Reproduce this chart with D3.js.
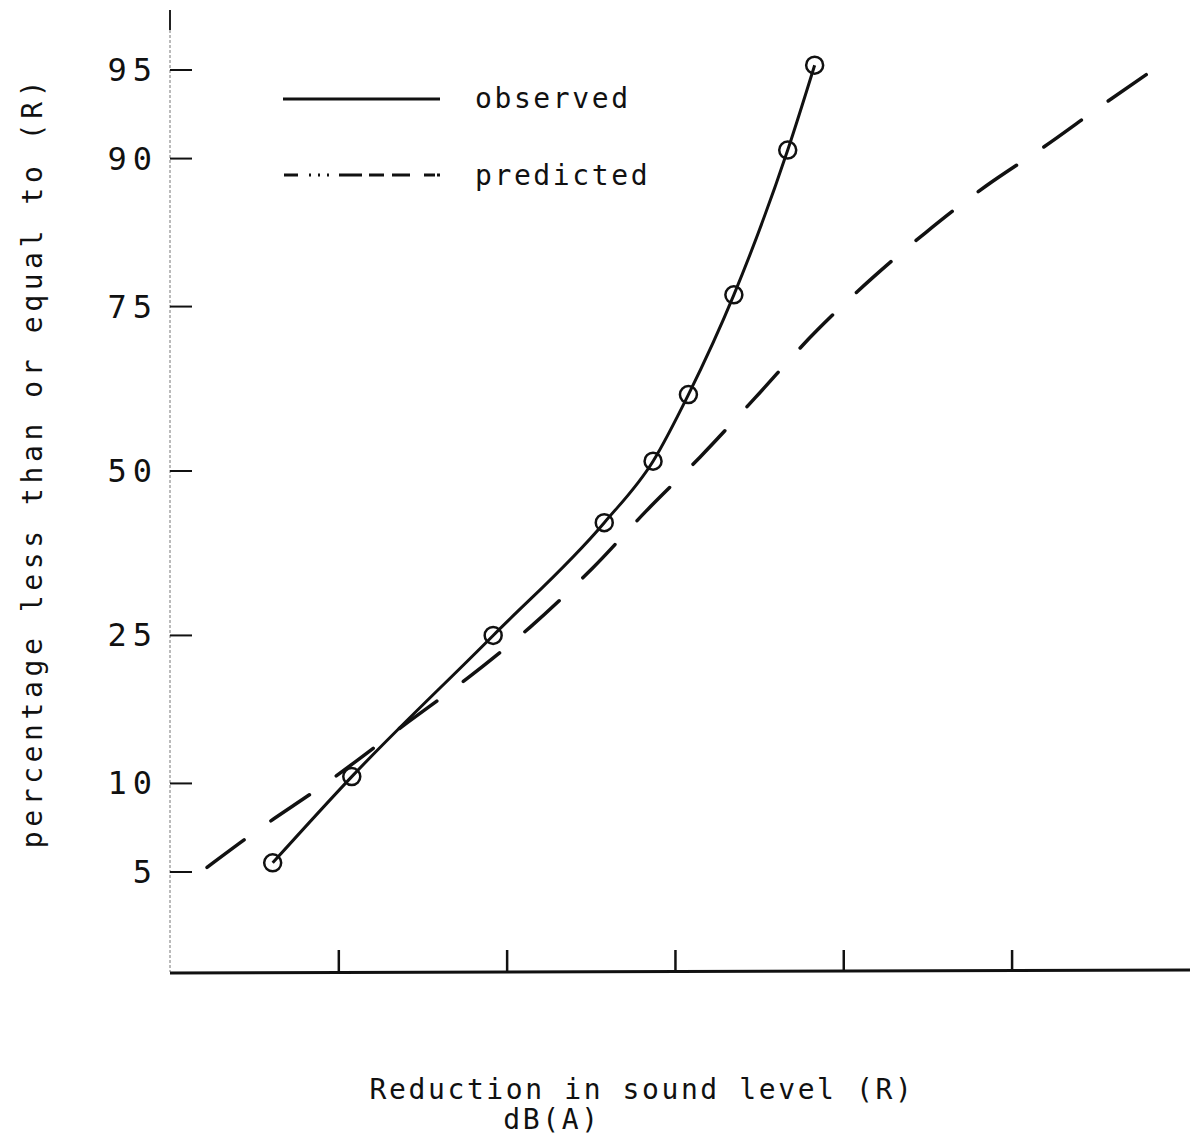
<!DOCTYPE html>
<html>
<head>
<meta charset="utf-8">
<script src="https://cdn.jsdelivr.net/npm/d3@7/dist/d3.min.js"></script>
<style>
  body { margin: 0; background: #fff; }
  text { font-family: "DejaVu Sans Mono", monospace; fill: #111; }
</style>
</head>
<body>
<div id="chart"></div>
<script>
// observed points (reduction, percent <= R)
const obsX = [0.61, 1.08, 1.92, 2.58, 2.87, 3.08, 3.35, 3.67, 3.83];
const obsY = [5.4, 10.5, 25.0, 41.6, 51.6, 62.3, 76.5, 90.6, 95.2];

// predicted curve, listed from the top end down
const predX = [5.80, 5.55, 5.19, 4.85, 4.49, 4.18, 3.84, 3.48, 3.15, 2.83, 2.51, 2.14, 1.77, 1.41, 0.89, 0.56, 0.22];
const predY = [94.8, 93.4, 90.8, 87.9, 83.6, 78.7, 71.7, 61.9, 52.3, 43.5, 34.5, 26.1, 19.8, 15.1, 9.7, 7.3, 5.2];

const yTicks = [5, 10, 25, 50, 75, 90, 95];
const xTicks = [1, 2, 3, 4, 5];

const width = 1200, height = 1147;

// inverse normal cdf (Acklam) for the probability axis
function probit(p) {
    const a = [-39.6968302866538, 220.946098424521, -275.928510446969, 138.357751867269, -30.6647980661472, 2.50662827745924];
    const b = [-54.4760987982241, 161.585836858041, -155.698979859887, 66.8013118877197, -13.2806815528857];
    const c = [-0.00778489400243029, -0.322396458041136, -2.40075827716184, -2.54973253934373, 4.37466414146497, 2.93816398269878];
    const d = [0.00778469570904146, 0.32246712907004, 2.445134137143, 3.75440866190742];
    const pl = 0.02425;
    let q, r;
    if (p < pl) {
        q = Math.sqrt(-2 * Math.log(p));
        return (((((c[0]*q+c[1])*q+c[2])*q+c[3])*q+c[4])*q+c[5]) / ((((d[0]*q+d[1])*q+d[2])*q+d[3])*q+1);
    } else if (p <= 1 - pl) {
        q = p - 0.5; r = q * q;
        return (((((a[0]*r+a[1])*r+a[2])*r+a[3])*r+a[4])*r+a[5])*q / (((((b[0]*r+b[1])*r+b[2])*r+b[3])*r+b[4])*r+1);
    } else {
        q = Math.sqrt(-2 * Math.log(1 - p));
        return -(((((c[0]*q+c[1])*q+c[2])*q+c[3])*q+c[4])*q+c[5]) / ((((d[0]*q+d[1])*q+d[2])*q+d[3])*q+1);
    }
}

const svg = d3.select("#chart").append("svg")
    .attr("width", width)
    .attr("height", height);

// scales
const xScale = d3.scaleLinear().domain([0, 6.06]).range([170, 1190]);
const zScale = d3.scaleLinear().domain([probit(0.05), probit(0.95)]).range([872, 70]);
const yScale = v => zScale(probit(v / 100));

// y axis (faint line, ticks pointing inwards)
svg.append("line")
    .attr("x1", 170).attr("x2", 170)
    .attr("y1", 10).attr("y2", 972)
    .attr("stroke", "#777")
    .attr("stroke-width", 1)
    .attr("stroke-dasharray", "3,2");
svg.append("line")
    .attr("x1", 170).attr("x2", 170)
    .attr("y1", 10).attr("y2", 30)
    .attr("stroke", "#222")
    .attr("stroke-width", 2);

const yAxis = svg.append("g");
yAxis.selectAll(".ytick")
    .data(yTicks)
    .enter().append("line")
    .attr("x1", 170).attr("x2", 192)
    .attr("y1", d => yScale(d)).attr("y2", d => yScale(d))
    .attr("stroke", "#111")
    .attr("stroke-width", 2);
yAxis.selectAll(".ylab")
    .data(yTicks)
    .enter().append("text")
    .attr("x", 158)
    .attr("y", d => yScale(d) + 11)
    .attr("text-anchor", "end")
    .attr("font-size", "32px")
    .attr("letter-spacing", "6px")
    .text(d => d);

// x axis: unlabeled ticks pointing up
const xAxis = d3.axisBottom(xScale)
    .tickValues(xTicks)
    .tickSize(-22)
    .tickFormat("");
const gx = svg.append("g")
    .attr("transform", "translate(0, 972)")
    .call(xAxis);
gx.select(".domain").remove();
gx.selectAll(".tick line").attr("stroke", "#111").attr("stroke-width", 2.5);
svg.append("line")
    .attr("x1", 170).attr("x2", 1190)
    .attr("y1", 973).attr("y2", 970)
    .attr("stroke", "#111")
    .attr("stroke-width", 3);

// predicted curve (dashed), dash length fitted so both ends are dashes
const predLine = d3.line()
    .x(i => xScale(predX[i]))
    .y(i => yScale(predY[i]))
    .curve(d3.curveMonotoneY);
const predPath = svg.append("path")
    .attr("d", predLine(d3.range(predX.length)))
    .attr("fill", "none")
    .attr("stroke", "#111")
    .attr("stroke-width", 3.5)
    .attr("stroke-linecap", "round");
const len = predPath.node().getTotalLength();
const gapFrac = 32 / 77;
const nDash = Math.round(len / 77 + gapFrac);
const period = len / (nDash - gapFrac);
predPath.attr("stroke-dasharray", `${period * (1 - gapFrac)},${period * gapFrac}`);

// observed curve (solid) with open circles
const obsLine = d3.line()
    .x(i => xScale(obsX[i]))
    .y(i => yScale(obsY[i]))
    .curve(d3.curveMonotoneX);
svg.append("path")
    .attr("d", obsLine(d3.range(obsX.length)))
    .attr("fill", "none")
    .attr("stroke", "#111")
    .attr("stroke-width", 3);

svg.selectAll(".obs")
    .data(d3.range(obsX.length))
    .enter().append("circle")
    .attr("cx", i => xScale(obsX[i]))
    .attr("cy", i => yScale(obsY[i]))
    .attr("r", 8.5)
    .attr("fill", "none")
    .attr("stroke", "#111")
    .attr("stroke-width", 2.5);

// legend
svg.append("line")
    .attr("x1", 283).attr("x2", 440)
    .attr("y1", 99).attr("y2", 99)
    .attr("stroke", "#111")
    .attr("stroke-width", 3);
svg.append("line")
    .attr("x1", 284).attr("x2", 440)
    .attr("y1", 175).attr("y2", 175)
    .attr("stroke", "#111")
    .attr("stroke-width", 3)
    .attr("stroke-dasharray", "14,11,2,7,2,7,2,10,23,7,15,8,18");
svg.append("text")
    .attr("x", 475).attr("y", 108)
    .attr("font-size", "28px")
    .attr("letter-spacing", "2.6px")
    .text("observed");
svg.append("text")
    .attr("x", 475).attr("y", 185)
    .attr("font-size", "28px")
    .attr("letter-spacing", "2.6px")
    .text("predicted");

// axis titles
svg.append("text")
    .attr("transform", "translate(42, 462) rotate(-90)")
    .attr("text-anchor", "middle")
    .attr("font-size", "28px")
    .attr("letter-spacing", "4.6px")
    .text("percentage less than or equal to (R)");

svg.append("text")
    .attr("x", 642).attr("y", 1099)
    .attr("text-anchor", "middle")
    .attr("font-size", "28px")
    .attr("letter-spacing", "2.6px")
    .text("Reduction in sound level (R)");
svg.append("text")
    .attr("x", 552).attr("y", 1129)
    .attr("text-anchor", "middle")
    .attr("font-size", "28px")
    .attr("letter-spacing", "2.6px")
    .text("dB(A)");
</script>
</body>
</html>
